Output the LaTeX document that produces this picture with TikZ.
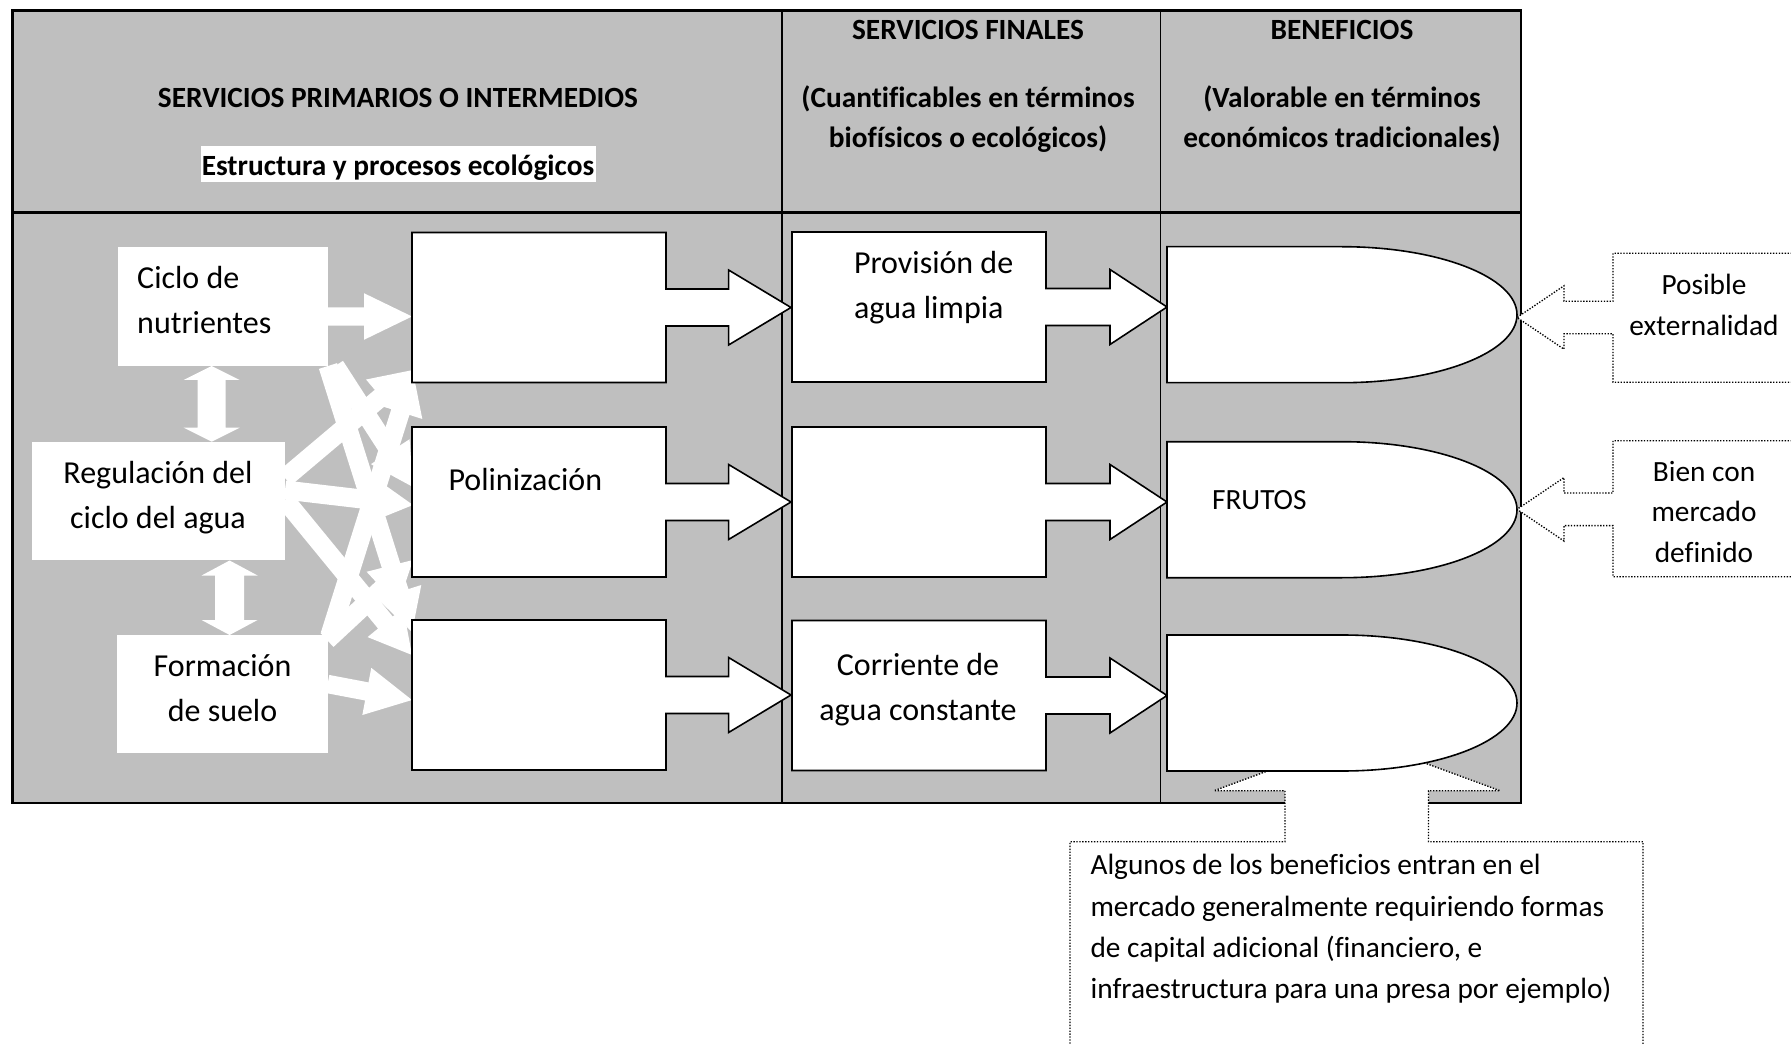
\documentclass[tikz,border=0pt]{standalone}
\usepackage{fontspec}
\setmainfont{Carlito}[Ligatures=CommonOff]
\usetikzlibrary{calc}
\definecolor{cellgray}{RGB}{191,191,191}

% white block arrow from #1 to #2: half shaft #3, half head #4, head length #5 (in px)
\newcommand\blockarrow[5]{%
  \coordinate (ba-h) at ($(#2)!#5*0.375pt!(#1)$);
  \fill[white] ($(#1)!#3*0.375pt!90:(#2)$) -- ($(ba-h)!#3*0.375pt!90:(#2)$)
    -- ($(ba-h)!#4*0.375pt!90:(#2)$) -- (#2) -- ($(ba-h)!#4*0.375pt!-90:(#2)$)
    -- ($(ba-h)!#3*0.375pt!-90:(#2)$) -- ($(#1)!#3*0.375pt!-90:(#2)$) -- cycle;}

% white double-headed block arrow
\newcommand\dblarrow[5]{%
  \coordinate (da-a) at ($(#1)!#5*0.375pt!(#2)$);
  \coordinate (da-b) at ($(#2)!#5*0.375pt!(#1)$);
  \fill[white] (#1) -- ($(da-a)!#4*0.375pt!90:(#2)$) -- ($(da-a)!#3*0.375pt!90:(#2)$)
    -- ($(da-b)!#3*0.375pt!90:(#2)$) -- ($(da-b)!#4*0.375pt!90:(#2)$) -- (#2)
    -- ($(da-b)!#4*0.375pt!-90:(#2)$) -- ($(da-b)!#3*0.375pt!-90:(#2)$)
    -- ($(da-a)!#3*0.375pt!-90:(#2)$) -- ($(da-a)!#4*0.375pt!-90:(#2)$) -- cycle;}

% box with an arrow leaving its right side: #1 left, #2 top, #3 box right, #4 head base, #5 tip
\newcommand\rcallout[5]{%
  \draw[cout] (#1,#2) -- (#3,#2) -- (#3,#2+56.5) -- (#4,#2+56.5) -- (#4,#2+37.5)
    -- (#5,#2+75) -- (#4,#2+112.5) -- (#4,#2+93.5) -- (#3,#2+93.5) -- (#3,#2+150)
    -- (#1,#2+150) -- cycle;}

% benefit shape: straight left half, elliptic right half; #1 top
\newcommand\benefit[1]{%
  \draw[cout] (1167,#1) -- (1342,#1)
    arc[start angle=90, end angle=-90, x radius=65.625pt, y radius=25.5pt]
    -- (1167,#1+136) -- cycle;}

% dotted note with arrow pointing left: #1 top, #2 bottom, #3 arrow axis
\newcommand\lnote[3]{%
  \path[dotline] (1830,#1) -- (1613,#1) -- (1613,#3-16.3) -- (1564,#3-16.3)
    -- (1564,#3-31.7) -- (1517,#3) -- (1564,#3+31.7) -- (1564,#3+16.3)
    -- (1613,#3+16.3) -- (1613,#2) -- (1830,#2);}

\begin{document}
\begin{tikzpicture}[x=0.375pt,y=-0.375pt,
  wbox/.style={fill=white, inner sep=0pt},
  txt/.style={font=\fontsize{12}{16.9}\selectfont, inner sep=0pt},
  stxt/.style={font=\fontsize{11}{15.3}\selectfont, inner sep=0pt},
  hdr/.style={font=\fontsize{11}{15}\selectfont\bfseries, inner sep=0pt, align=center},
  cout/.style={draw=black, fill=white, line width=0.6pt, line join=miter},
  dotline/.style={draw=black, fill=white, line width=0.5pt, dash pattern=on 0.5pt off 0.6pt},
]
\useasboundingbox (0,0) rectangle (1791,1045);
\clip (0,0) rectangle (1791,1045);
\fill[white] (0,0) rectangle (1791,1045);

% table
\fill[cellgray] (12.5,10.3) rectangle (1521,803);
\fill[white] (200.5,146) rectangle (596,181.7);
\draw[line width=0.7pt] (782.4,10.3) -- (782.4,803) (1160.5,10.3) -- (1160.5,803);
\draw[line width=1pt] (12.5,212.5) -- (1521,212.5);
\draw[line width=1pt] (12.5,10.3) rectangle (1521,803);

% headers
\node[hdr] (t1) at (398,97.5) {SERVICIOS PRIMARIOS O INTERMEDIOS};
\node[hdr] (t1b) at (398,167.5) {Estructura y procesos ecológicos};
\node[hdr] (t2) at (968,29.5) {SERVICIOS FINALES};
\node[hdr] (t2b) at (968,119) {(Cuantificables en términos\\biofísicos o ecológicos)};
\node[hdr] (t3) at (1342,29.5) {BENEFICIOS};
\node[hdr] (t3b) at (1342,119) {(Valorable en términos\\económicos tradicionales)};

% links between the primary services
\coordinate (a1s) at (327.7,316.5);  \coordinate (a1e) at (412,316.5);
\coordinate (a2s) at (335,366);      \coordinate (a2e) at (413,487);
\coordinate (a3s) at (328,366);      \coordinate (a3e) at (412,632);
\coordinate (a4s) at (285,478);      \coordinate (a4e) at (413,370);
\coordinate (a5s) at (285,490);      \coordinate (a5e) at (413,505);
\coordinate (a6s) at (285,500);      \coordinate (a6e) at (412,655);
\coordinate (a7s) at (330,635);      \coordinate (a7e) at (413,372);
\coordinate (a8s) at (327,640);      \coordinate (a8e) at (413,560);
\coordinate (a9s) at (327.6,684);    \coordinate (a9e) at (412,700);
\blockarrow{a1s}{a1e}{9.2}{23.3}{48}
\blockarrow{a2s}{a2e}{9.5}{23}{42}
\blockarrow{a3s}{a3e}{9.5}{23}{42}
\blockarrow{a4s}{a4e}{9.5}{23}{42}
\blockarrow{a5s}{a5e}{9.5}{23}{42}
\blockarrow{a6s}{a6e}{9.5}{23}{42}
\blockarrow{a7s}{a7e}{9.5}{23}{42}
\blockarrow{a8s}{a8e}{9.5}{23}{42}
\blockarrow{a9s}{a9e}{9.2}{24}{46}
\coordinate (d1s) at (211.7,366);    \coordinate (d1e) at (211.7,441.7);
\coordinate (d2s) at (229.6,560.5);  \coordinate (d2e) at (229.6,635);
\dblarrow{d1s}{d1e}{14}{28}{14}
\dblarrow{d2s}{d2e}{14.5}{28}{15}

% primary services
\node[wbox, minimum width=78.8pt, minimum height=44.6pt] (cic) at (222.6,306.5) {};
\node[wbox, minimum width=94.7pt, minimum height=44.4pt] (reg) at (158.25,501.25) {};
\node[wbox, minimum width=78.9pt, minimum height=44.4pt] (form) at (222.45,694.15) {};
\node[txt, anchor=west, align=left] (cict) at (136.7,300) {Ciclo de\\nutrientes};
\node[txt, align=center] (regt) at (158,498) {Regulación del\\ciclo del agua};
\node[txt, align=center] (formt) at (222.5,688) {Formación\\de suelo};

% intermediate and final services
\rcallout{412}{232.5}{666}{728.6}{791}
\rcallout{412}{427}{666}{728.6}{791}
\rcallout{412}{620}{666}{728.6}{791}
\rcallout{792}{232}{1046}{1110}{1167}
\rcallout{792}{427}{1046}{1110}{1167}
\rcallout{792}{620.5}{1046}{1110}{1167}
\node[txt, anchor=west] (pol) at (448,480) {Polinización};
\node[txt, anchor=west, align=left] (prov) at (853.5,287.5) {Provisión de\\agua limpia};
\node[txt, align=center] (corr) at (918,690) {Corriente de\\agua constante};

% notes
\lnote{253.3}{382.3}{317.5}
\lnote{440.7}{576.7}{509.3}
\path[dotline] (1070,1070) -- (1070,841.7) -- (1285,841.7) -- (1285,790.7) -- (1214,790.7)
  -- (1357,738) -- (1500,790.7) -- (1428.5,790.7) -- (1428.5,841.7) -- (1643,841.7) -- (1643,1070);

% benefits
\benefit{246.7}
\benefit{441.7}
\benefit{635}
\node[stxt, anchor=west] (fru) at (1211.5,500) {FRUTOS};

\node[stxt, align=center] (n1) at (1704,304.6) {Posible\\externalidad};
\node[stxt, align=center] (n2) at (1704,512) {Bien con\\mercado\\definido};
\node[font=\fontsize{11}{15.5}\selectfont, inner sep=0pt, anchor=west, align=left] (n3) at (1090,929)
  {Algunos de los beneficios entran en el\\mercado generalmente requiriendo formas\\de capital adicional (financiero, e\\infraestructura para una presa por ejemplo)};
\end{tikzpicture}
\end{document}
